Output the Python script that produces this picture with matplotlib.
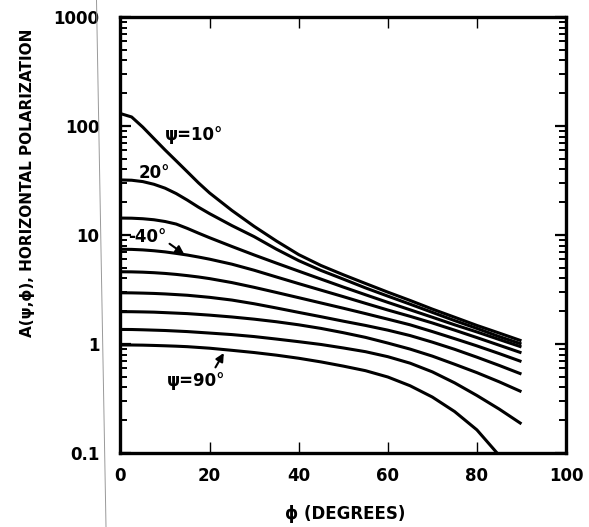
import numpy as np
import matplotlib
matplotlib.use("Agg")
import matplotlib.pyplot as plt
from matplotlib.lines import Line2D

plt.rcParams['font.family'] = ['DejaVu Sans']
plt.rcParams['font.weight'] = 'bold'

# phi (degrees)
phi = [0, 2.5, 5, 7.5, 10, 12.5, 15, 17.5, 20, 25, 30, 35, 40, 45, 50, 55, 60, 65, 70, 75, 80, 85, 90]

# A(psi, phi) for each grazing angle psi
a_psi10 = [130, 121, 97.7, 76.7, 60.3, 47.9, 38.0, 30.1, 24.3, 16.8, 12.0, 8.81, 6.61, 5.25, 4.32, 3.59, 2.99, 2.51, 2.09, 1.76, 1.48, 1.26, 1.07]
a_psi20 = [32.0, 31.8, 30.9, 29.2, 26.9, 24.0, 20.9, 18.0, 15.7, 12.2, 9.66, 7.41, 5.82, 4.73, 3.94, 3.27, 2.75, 2.32, 1.95, 1.64, 1.39, 1.17, 1.0]
a_psi30 = [14.3, 14.26, 14.1, 13.8, 13.3, 12.6, 11.5, 10.4, 9.44, 7.85, 6.56, 5.52, 4.66, 3.94, 3.33, 2.83, 2.41, 2.06, 1.76, 1.50, 1.29, 1.10, 0.94]
a_psi40 = [7.4, 7.38, 7.3, 7.17, 7.0, 6.78, 6.55, 6.28, 6.0, 5.4, 4.75, 4.12, 3.58, 3.12, 2.72, 2.36, 2.05, 1.795, 1.56, 1.34, 1.145, 0.975, 0.83]
a_psi50 = [4.6, 4.59, 4.56, 4.51, 4.44, 4.35, 4.24, 4.12, 3.98, 3.66, 3.31, 2.97, 2.66, 2.38, 2.13, 1.9, 1.69, 1.5, 1.3, 1.12, 0.961, 0.817, 0.69]
a_psi60 = [2.95, 2.945, 2.93, 2.91, 2.88, 2.84, 2.8, 2.74, 2.68, 2.53, 2.34, 2.14, 1.95, 1.78, 1.62, 1.48, 1.34, 1.195, 1.04, 0.894, 0.757, 0.636, 0.53]
a_psi70 = [1.98, 1.978, 1.97, 1.96, 1.94, 1.92, 1.9, 1.87, 1.84, 1.77, 1.69, 1.6, 1.5, 1.39, 1.27, 1.15, 1.02, 0.898, 0.774, 0.652, 0.546, 0.45, 0.365]
a_psi80 = [1.36, 1.358, 1.35, 1.34, 1.33, 1.315, 1.3, 1.28, 1.26, 1.22, 1.17, 1.11, 1.05, 0.99, 0.92, 0.85, 0.765, 0.667, 0.555, 0.44, 0.337, 0.253, 0.185]
a_psi90 = [0.98, 0.979, 0.976, 0.97, 0.963, 0.955, 0.945, 0.93, 0.915, 0.875, 0.835, 0.79, 0.74, 0.685, 0.627, 0.569, 0.498, 0.414, 0.326, 0.240, 0.163, 0.095, np.nan]

curves = [a_psi10, a_psi20, a_psi30, a_psi40, a_psi50, a_psi60, a_psi70, a_psi80, a_psi90]

x_ticks = [0, 20, 40, 60, 80, 100]
y_ticks = [0.1, 1, 10, 100, 1000]
y_tick_labels = ['0.1', '1', '10', '100', '1000']

W, H = 589, 527
fig = plt.figure(figsize=(W / 100, H / 100), dpi=100)
ax = fig.add_axes([120.5 / W, (H - 453) / H, (566 - 120.5) / W, (453 - 17) / H])

for vals in curves:
    ax.plot(phi, vals, color='black', lw=2.2, solid_capstyle='butt', solid_joinstyle='round')

ax.set_yscale('log')
ax.set_xlim(0, 100)
ax.set_ylim(0.1, 1000)
ax.set_xticks(x_ticks)
ax.set_xticklabels([str(t) for t in x_ticks], fontsize=12, fontweight='bold')
ax.set_yticks(y_ticks)
ax.set_yticklabels(y_tick_labels, fontsize=12, fontweight='bold')
ax.yaxis.set_minor_locator(matplotlib.ticker.LogLocator(base=10, subs=np.arange(2, 10)))
ax.yaxis.set_minor_formatter(matplotlib.ticker.NullFormatter())

ax.tick_params(axis='x', which='major', direction='in', length=8, width=1.0,
               top=True, bottom=True, pad=10)
ax.tick_params(axis='y', which='major', direction='in', length=8, width=1.6,
               left=True, right=True, pad=15)
ax.tick_params(axis='y', which='minor', direction='in', length=5, width=1.4,
               left=True, right=True)

for s in ax.spines.values():
    s.set_linewidth(2.4)

# annotations
ax.text(16.5, 82, 'ψ=10°', fontsize=12, fontweight='bold', ha='center', va='center')
ax.text(7.5, 37, '20°', fontsize=12, fontweight='bold', ha='center', va='center')
ax.text(6.0, 9.6, '-40°', fontsize=12, fontweight='bold', ha='center', va='center')
ax.annotate('', xy=(14.8, 6.45), xytext=(10.5, 8.6),
            arrowprops=dict(arrowstyle='-|>', color='black', lw=1.5, mutation_scale=12))
ax.text(17.0, 0.46, 'ψ=90°', fontsize=12, fontweight='bold', ha='center', va='center')
ax.annotate('', xy=(23.5, 0.87), xytext=(21.0, 0.58),
            arrowprops=dict(arrowstyle='-|>', color='black', lw=1.5, mutation_scale=12))

fig.text(28 / W, 1 - 183 / H, 'A(ψ,ϕ), HORIZONTAL POLARIZATION', rotation=90,
         ha='center', va='center', fontsize=11, fontweight='bold')
fig.text(345 / W, 1 - 514 / H, 'ϕ (DEGREES)', ha='center', va='center',
         fontsize=12, fontweight='bold')

# faint scan line
fig.add_artist(Line2D([96.5 / W, 106 / W], [1, 0], color='#999999', lw=0.7))

fig.savefig('out.png', dpi=100)
